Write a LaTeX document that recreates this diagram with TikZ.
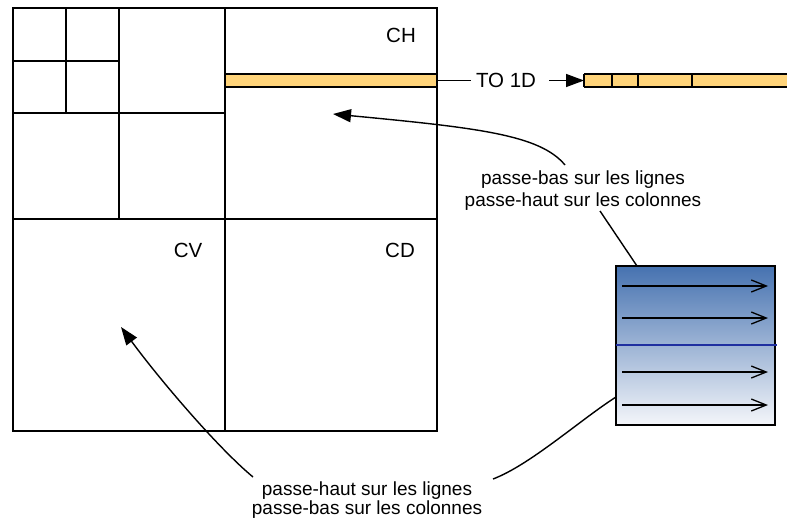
\documentclass[tikz,border=0pt]{standalone}
\usepackage{fontspec}
\setmainfont{Liberation Sans}
\usetikzlibrary{arrows.meta}
\definecolor{barfill}{HTML}{FFD47A}
\definecolor{topblue}{HTML}{4672B0}
\definecolor{botblue}{HTML}{F4F6FA}
\definecolor{midline}{HTML}{1F2FA0}
\begin{document}
\begin{tikzpicture}[x=1pt,y=-1pt,
  box/.style={draw=black,line width=1.7pt},
  lbl/.style={font=\fontsize{20.5}{24}\selectfont,inner sep=0pt,anchor=base},
  txt/.style={font=\fontsize{19}{22}\selectfont,inner sep=0pt,anchor=base},
  conn/.style={draw=black,line width=1.4pt},
  tipfill/.style={-{Triangle[length=18pt,width=13pt]}},
  barb/.style={-{Straight Barb[length=15pt,width=12pt,line width=1.3pt]}}
]
\useasboundingbox (0,0) rectangle (787,522);
\fill[white] (0,0) rectangle (787,522);
% yellow row in CH
\fill[barfill] (225,74) rectangle (437,87);
\draw[box] (225,74) -- (437,74) (225,87) -- (437,87);
% decomposition grid
\draw[box] (13,8) rectangle (437,431);
\draw[box] (225,8) -- (225,431) (13,219) -- (437,219);
\draw[box] (119,8) -- (119,219) (13,113) -- (225,113);
\draw[box] (66,8) -- (66,113) (13,61) -- (119,61);
% labels
\node[lbl] (ch) at (401,42) {CH};
\node[lbl] (cv) at (188,257) {CV};
\node[lbl] (cd) at (400,257) {CD};
% 1D row
\coordinate (rowend) at (437,80.5);
\node[lbl,anchor=center] (to1d) at (506,80.5) {TO 1D};
\fill[barfill] (584,74) rectangle (787,87);
\draw[box] (584,74) -- (787,74) (584,87) -- (787,87) (584,74) -- (584,87);
\draw[box] (612,74) -- (612,87) (638,74) -- (638,87) (692,74) -- (692,87);
\coordinate (rowstart) at (584,80.5);
\draw[conn] (rowend) -- (471,80.5);
\draw[conn,tipfill] (549,80.5) -- (rowstart);
% filter box
\shade[top color=topblue,bottom color=botblue] (616,266) rectangle (775,425);
\draw[box] (616,266) rectangle (775,425);
\draw[midline,line width=1.3pt] (616,345) -- (777,345);
\foreach \yy in {286,318,372,405}
  \draw[conn,barb] (622,\yy) -- (768,\yy);
\coordinate (boxtop) at (637,266);
\coordinate (boxleft) at (616,397);
% texts
\node[txt] (up1) at (583,184) {passe-bas sur les lignes};
\node[txt] (up2) at (583,206) {passe-haut sur les colonnes};
\node[txt] (lo1) at (367,495) {passe-haut sur les lignes};
\node[txt] (lo2) at (367,514) {passe-bas sur les colonnes};
\coordinate (upfrom) at (565,165);
\coordinate (upline) at (600,211);
\coordinate (lofrom) at (253,477);
\coordinate (loline) at (493,479);
\coordinate (chpt) at (333,114);
\coordinate (cvpt) at (121,327);
% connectors
\draw[conn,tipfill] (upfrom) .. controls (540,135) and (480,128) .. (chpt);
\draw[conn] (upline) -- (boxtop);
\draw[conn,tipfill] (lofrom) .. controls (218,448) and (160,380) .. (cvpt);
\draw[conn] (loline) .. controls (530,465) and (580,420) .. (boxleft);
\end{tikzpicture}
\end{document}
